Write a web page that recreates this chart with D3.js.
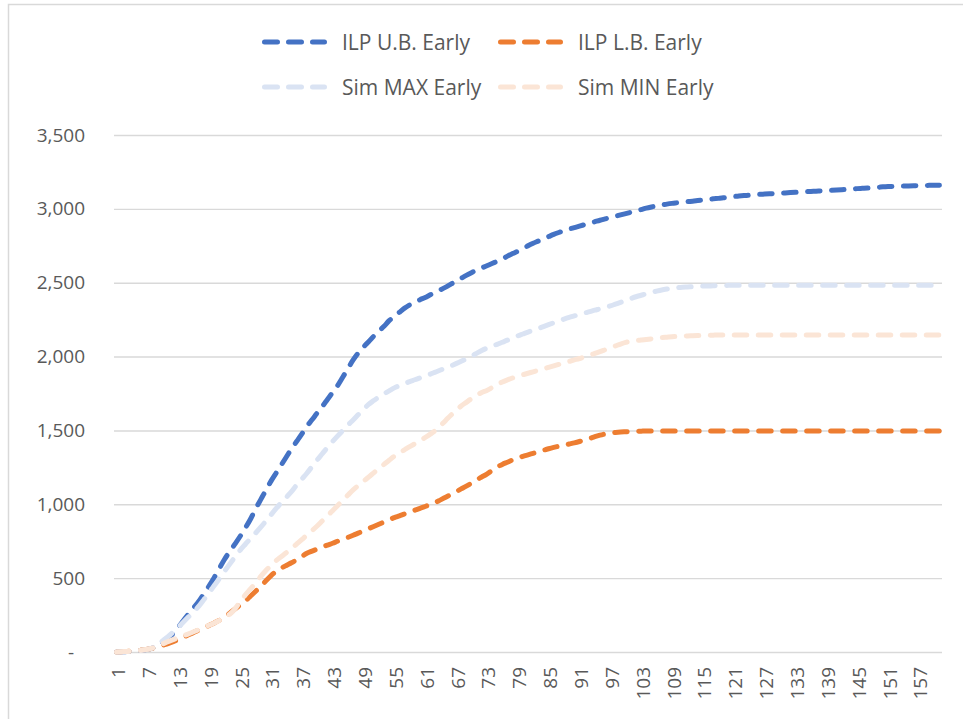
<!DOCTYPE html>
<html>
<head>
<meta charset="utf-8">
<script src="https://cdn.jsdelivr.net/npm/d3@7"></script>
<style>
  html, body { margin: 0; padding: 0; background: #fff; }
  svg { display: block; }
  text { font-family: "Open Sans", "Noto Sans", sans-serif; fill: #595959; }
</style>
</head>
<body>
<svg id="chart" width="963" height="719"></svg>
<script>
// ---------- DATA ----------
const categories = d3.range(1, 162); // 1 .. 161
const xTickLabels = d3.range(1, 162, 6); // 1, 7, 13, ... 157
const yTicks = [0, 500, 1000, 1500, 2000, 2500, 3000, 3500];

const seriesNames = ["ILP U.B. Early", "ILP L.B. Early", "Sim MAX Early", "Sim MIN Early"];
const seriesColors = ["#4472C4", "#ED7D31", "#DAE3F3", "#FBE5D6"];

const ilpUB = [
  0,1,3,5,8,12,18,27,45,70,
  95,125,168,213,258,300,343,395,448,505,
  567,628,680,730,782,838,897,967,1030,1093,
  1155,1210,1265,1320,1375,1425,1475,1528,1572,1618,
  1662,1710,1757,1805,1862,1920,1977,2025,2065,2100,
  2138,2172,2205,2243,2270,2300,2328,2350,2368,2385,
  2400,2418,2435,2452,2470,2490,2510,2530,2550,2568,
  2585,2600,2615,2630,2645,2660,2680,2697,2713,2730,
  2750,2767,2782,2797,2812,2827,2840,2852,2863,2873,
  2883,2893,2903,2913,2923,2932,2941,2950,2959,2968,
  2977,2986,2995,3005,3013,3020,3026,3032,3037,3041,
  3045,3049,3052,3056,3060,3064,3068,3071,3075,3079,
  3083,3087,3090,3092,3095,3098,3100,3102,3104,3106,
  3108,3110,3112,3114,3116,3118,3120,3122,3124,3126,
  3128,3130,3132,3134,3137,3139,3141,3144,3146,3149,
  3151,3152,3153,3154,3155,3156,3157,3158,3159,3159,
  3160
];

const ilpLB = [
  0,2,4,7,10,14,18,25,35,46,
  57,70,85,101,117,133,148,163,180,197,
  215,237,262,290,318,345,377,410,445,480,
  515,545,567,586,604,624,647,668,683,697,
  711,724,736,750,763,776,790,805,820,835,
  850,865,880,895,910,922,935,947,960,973,
  985,998,1012,1030,1048,1066,1085,1104,1123,1143,
  1165,1185,1205,1228,1252,1270,1285,1300,1313,1325,
  1335,1345,1355,1366,1376,1385,1393,1400,1408,1416,
  1425,1435,1446,1458,1468,1476,1482,1486,1489,1491,
  1493,1494,1495,1496,1496,1496,1496,1496,1496,1496,
  1496,1496,1496,1496,1496,1496,1496,1496,1496,1496,
  1496,1496,1496,1496,1496,1496,1496,1496,1496,1496,
  1496,1496,1496,1496,1496,1496,1496,1496,1496,1496,
  1496,1496,1496,1496,1496,1496,1496,1496,1496,1496,
  1496,1496,1496,1496,1496,1496,1496,1496,1496,1496,
  1496
];

const simMax = [
  0,1,3,5,8,12,18,27,50,77,
  104,135,168,203,238,273,310,355,402,450,
  498,547,595,642,688,728,766,804,843,885,
  928,970,1010,1047,1085,1130,1170,1210,1255,1300,
  1342,1385,1425,1463,1500,1537,1571,1607,1642,1676,
  1702,1726,1748,1768,1788,1803,1817,1831,1843,1856,
  1868,1881,1895,1909,1923,1937,1952,1968,1985,2003,
  2022,2041,2057,2070,2083,2097,2111,2126,2140,2153,
  2166,2178,2190,2203,2216,2229,2242,2254,2265,2275,
  2285,2295,2304,2314,2323,2333,2343,2355,2367,2380,
  2393,2405,2415,2425,2434,2443,2451,2457,2462,2466,
  2469,2471,2473,2475,2477,2478,2479,2480,2481,2482,
  2482,2482,2482,2482,2482,2482,2482,2482,2482,2482,
  2482,2482,2482,2482,2482,2482,2482,2482,2482,2482,
  2482,2482,2482,2482,2482,2482,2482,2482,2482,2482,
  2482,2482,2482,2482,2482,2482,2482,2482,2482,2482,
  2482
];

const simMin = [
  0,2,4,7,10,14,19,28,40,55,
  70,84,97,110,123,137,151,166,181,197,
  214,234,256,290,340,385,425,465,510,550,
  585,618,645,672,700,730,760,792,822,853,
  888,922,957,992,1028,1063,1097,1127,1156,1184,
  1213,1242,1270,1298,1325,1348,1369,1390,1410,1430,
  1452,1475,1500,1533,1568,1603,1635,1665,1690,1715,
  1737,1757,1771,1790,1810,1828,1842,1855,1866,1877,
  1887,1897,1907,1917,1927,1937,1947,1957,1967,1977,
  1987,1998,2009,2021,2033,2046,2059,2072,2085,2096,
  2103,2108,2112,2116,2120,2124,2128,2131,2134,2136,
  2138,2140,2141,2142,2143,2144,2145,2146,2146,2146,
  2146,2146,2146,2146,2146,2146,2146,2146,2146,2146,
  2146,2146,2146,2146,2146,2146,2146,2146,2146,2146,
  2146,2146,2146,2146,2146,2146,2146,2146,2146,2146,
  2146,2146,2146,2146,2146,2146,2146,2146,2146,2146,
  2146
];

const seriesValues = [ilpUB, ilpLB, simMax, simMin];

// ---------- LAYOUT ----------
const svg = d3.select("#chart");
const plot = { left: 114, right: 942, top: 135, bottom: 652 };

// chart outer border
svg.append("rect")
  .attr("x", 8.5).attr("y", 4.5)
  .attr("width", 1000).attr("height", 1000)
  .attr("fill", "none").attr("stroke", "#d9d9d9").attr("stroke-width", 1.5);

const x = d3.scalePoint().domain(categories).range([plot.left, plot.right]).padding(0.5);
const y = d3.scaleLinear().domain([0, 3500]).range([plot.bottom, plot.top]);

// gridlines + y labels
const yAxis = d3.axisLeft(y).tickValues(yTicks)
  .tickSize(-(plot.right - plot.left))
  .tickPadding(29)
  .tickFormat(d => d === 0 ? "-" : d3.format(",")(d));
const gy = svg.append("g").attr("transform", `translate(${plot.left},0)`).call(yAxis);
gy.select(".domain").remove();
gy.selectAll(".tick line").attr("stroke", "#d9d9d9").attr("stroke-width", 1.4);
gy.selectAll(".tick text")
  .attr("fill", "#595959")
  .style("font-size", "19px")
  .attr("dx", d => d === 0 ? -11 : 0);

// x axis labels
const xAxis = d3.axisBottom(x).tickValues(xTickLabels).tickSize(0).tickPadding(0);
const gx = svg.append("g").attr("transform", `translate(0,${plot.bottom})`).call(xAxis);
gx.select(".domain").remove();
gx.selectAll(".tick text")
  .attr("fill", "#595959")
  .style("font-size", "19px")
  .attr("text-anchor", "end")
  .attr("dominant-baseline", "central")
  .attr("transform", "translate(1,15) rotate(-90)")
  .attr("x", 0).attr("y", 0).attr("dy", null);

// lines
const line = d3.line()
  .x((d, i) => x(categories[i]))
  .y(d => y(d))
  .curve(d3.curveMonotoneX);

seriesValues.forEach((vals, k) => {
  svg.append("path")
    .datum(vals)
    .attr("d", line)
    .attr("fill", "none")
    .attr("stroke", seriesColors[k])
    .attr("stroke-width", 5)
    .attr("stroke-linecap", "round")
    .attr("stroke-dasharray", "12.5,11.5");
});

// legend
const legendItems = [
  { k: 0, lx: 262, ty: 42 },
  { k: 1, lx: 498, ty: 42 },
  { k: 2, lx: 262, ty: 87 },
  { k: 3, lx: 498, ty: 87 }
];
const lg = svg.append("g");
legendItems.forEach(it => {
  lg.append("line")
    .attr("x1", it.lx + 2.5).attr("x2", it.lx + 65 - 2.5)
    .attr("y1", it.ty).attr("y2", it.ty)
    .attr("stroke", seriesColors[it.k])
    .attr("stroke-width", 5)
    .attr("stroke-linecap", "round")
    .attr("stroke-dasharray", "13,11");
  lg.append("text")
    .attr("x", it.lx + 80).attr("y", it.ty)
    .attr("dominant-baseline", "central")
    .style("font-size", "21px")
    .text(seriesNames[it.k]);
});
</script>
</body>
</html>
